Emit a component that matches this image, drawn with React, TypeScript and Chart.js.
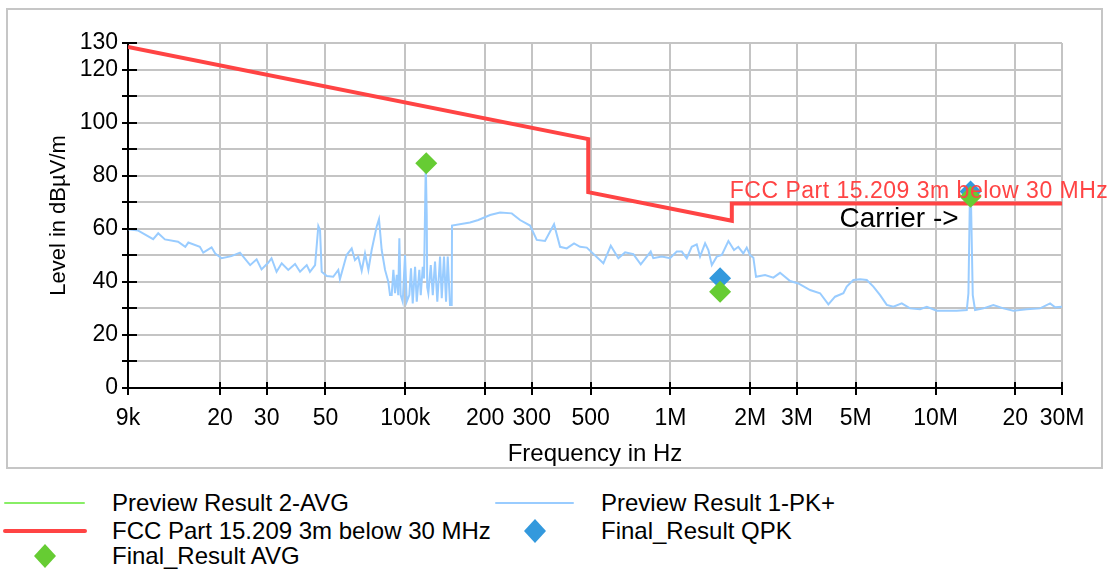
import React, { useEffect, useRef } from "react";
import { Chart, registerables } from "chart.js";

Chart.register(...registerables);

const FONT = '"Liberation Sans", Arial, Helvetica, sans-serif';

// ---- Preview Result 1-PK+ (frequency in Hz, level in dBµV/m) ----
const traceFreq = [
  9000, 9840, 11200, 11700, 12400, 13900, 14800, 15200, 16800, 17300, 18600, 19200,
  20300, 22100, 23800, 26000, 27500, 28700, 30400, 31300, 32700, 34200, 36200, 38400,
  40100, 42500, 43700, 45700, 47000, 47700, 48400, 50600, 53500, 55900, 56700, 60100,
  62800, 64600, 66500, 68500, 70500, 72600, 74700, 78000, 79600, 81500, 83900, 86300,
  87600, 88900, 90200, 91500, 92900, 94100, 95000, 96100, 97800, 99800, 101300, 103600,
  105100, 106700, 108900, 110500, 113000, 114400, 116400, 117700, 119500, 120500, 121000,
  122200, 124800, 127000, 129500, 132100, 135300, 137300, 140000, 142500, 144600, 147500,
  149700, 150100, 175500, 188600, 208900, 227800, 252200, 271000, 295600, 313300, 336700,
  364100, 383600, 406500, 433200, 456300, 483700, 558800, 595900, 636400, 675000, 725000,
  773000, 843000, 862000, 928000, 997000, 1057000, 1104000, 1153000, 1204000, 1257000,
  1294000, 1352000, 1391000, 1433000, 1496000, 1563000, 1655000, 1738000, 1804000,
  1884000, 1941000, 1998000, 2056000, 2104000, 2276000, 2446000, 2592000, 2829000,
  3040000, 3364000, 3670000, 3944000, 4180000, 4493000, 4626000, 4900000, 5195000,
  5505000, 5830000, 6180000, 6550000, 6936000, 7460000, 8018000, 8744000, 9270000,
  10110000, 11030000, 12030000, 13120000, 13310000, 13480000, 13600000, 13820000,
  14100000, 15160000, 16530000, 18030000, 19670000, 22090000, 24800000, 27050000,
  28260000, 30000000,
];
const traceLevel = [
  59.8, 59.3, 56.1, 58.3, 56.0, 55.1, 53.2, 54.8, 53.2, 51.0, 53.0, 50.7,
  48.9, 49.7, 51.0, 46.3, 48.5, 44.7, 47.2, 48.9, 43.8, 47.0, 44.5, 46.7,
  43.8, 46.3, 43.8, 46.3, 61.0, 59.5, 43.8, 42.2, 41.9, 44.5, 41.0, 50.1,
  52.6, 48.2, 49.5, 44.2, 50.7, 44.5, 52.0, 60.8, 63.6, 52.0, 44.5, 40.1,
  35.0, 35.0, 44.5, 35.7, 42.6, 35.0, 56.4, 35.0, 32.5, 50.1, 32.5, 35.0,
  45.1, 31.9, 45.7, 32.5, 44.5, 35.0, 45.7, 41.3, 84.5, 65.2, 38.0,
  35.7, 46.3, 35.0, 47.6, 32.5, 49.5, 33.8, 49.5, 32.5, 49.5, 31.3,
  31.3, 61.2, 62.4, 63.3, 65.2, 66.1, 65.8, 63.3, 61.2, 55.8, 55.4,
  61.7, 53.2, 52.6, 54.5, 53.2, 52.9, 47.0, 53.6, 48.9, 51.1, 50.4,
  46.6, 51.4, 48.9, 49.5, 48.9, 51.4, 51.4, 48.9, 53.2, 54.1,
  49.5, 54.5, 52.0, 46.3, 49.5, 50.1, 55.4, 52.0, 53.2,
  50.7, 52.9, 50.1, 49.1, 41.9, 42.6, 41.6, 43.4, 40.3,
  39.4, 36.9, 35.7, 31.5, 34.4, 35.7, 38.2, 40.7, 41.0,
  40.7, 38.2, 35.0, 31.3, 30.6, 31.9, 30.0, 29.7, 30.6,
  29.1, 29.1, 29.1, 29.4, 35.7, 72.0, 72.0, 35.0,
  29.4, 30.0, 31.3, 30.0, 29.1, 29.7, 30.0, 31.9,
  30.4, 30.6,
];

// ---- FCC Part 15.209 3m below 30 MHz limit ----
const limitFreq = [9000, 490000, 490000, 1705000, 1705000, 30000000];
const limitLevel = [128.5, 93.8, 73.8, 63.0, 69.5, 69.5];

// ---- Final results ----
const avgFreq = [120000, 1540000, 13560000];
const avgLevel = [84.7, 36.3, 72.1];
const qpkFreq = [1540000, 13560000];
const qpkLevel = [41.4, 74.0];

// ---- Axes ----
const xTickValues = [9000, 20000, 30000, 50000, 100000, 200000, 300000, 500000, 1e6, 2e6, 3e6, 5e6, 1e7, 2e7, 3e7];
const xTickLabels = ["9k", "20", "30", "50", "100k", "200", "300", "500", "1M", "2M", "3M", "5M", "10M", "20", "30M"];
const yTickValues = [0, 10, 20, 30, 40, 50, 60, 70, 80, 90, 100, 110, 120, 130];
const yTickLabels = ["0", "", "20", "", "40", "", "60", "", "80", "", "100", "", "120", "130"];

const seriesNames = [
  "Preview Result 2-AVG",
  "Preview Result 1-PK+",
  "FCC Part 15.209 3m below 30 MHz",
  "Final_Result QPK",
  "Final_Result AVG",
];
const limitLabelFreq = 1705000;
const carrierText = "Carrier ->";
const carrierFreq = 13560000;
const carrierLevel = 60.6;

const RED = "#ff4444";
const TRACE = "#99ccff";
const GREEN = "#66cc33";
const BLUE = "#3399dd";
const AVG_LINE = "#88ee66";
const GRID = "#c4c4c4";

const toPoints = (xs: number[], ys: number[]) => xs.map((x, i) => ({ x, y: ys[i] }));

const overlayPlugin = {
  id: "overlay",
  afterDraw(chart: any) {
    const { ctx, chartArea } = chart;
    const xs = chart.scales.x;
    const ys = chart.scales.y;
    ctx.save();
    ctx.strokeStyle = "#000";
    ctx.lineWidth = 2;
    ctx.beginPath();
    for (const v of yTickValues) {
      const py = Math.round(ys.getPixelForValue(v));
      ctx.moveTo(chartArea.left - 6, py);
      ctx.lineTo(chartArea.left + 9, py);
    }
    for (const v of xTickValues) {
      const px = Math.round(xs.getPixelForValue(v));
      ctx.moveTo(px, chartArea.bottom - 6);
      ctx.lineTo(px, chartArea.bottom + 7);
    }
    ctx.stroke();

    ctx.fillStyle = RED;
    ctx.font = `23px ${FONT}`;
    ctx.textAlign = "left";
    ctx.textBaseline = "alphabetic";
    ctx.letterSpacing = "0.5px";
    ctx.fillText(seriesNames[2], xs.getPixelForValue(limitLabelFreq) - 2, ys.getPixelForValue(limitLevel[4]) - 6);
    ctx.letterSpacing = "0px";

    ctx.fillStyle = "#000";
    ctx.font = `28px ${FONT}`;
    ctx.textAlign = "right";
    ctx.fillText(carrierText, xs.getPixelForValue(carrierFreq) - 12, ys.getPixelForValue(carrierLevel));
    ctx.restore();
  },
};

function LegendLine({ left, top, width, color, thickness }: any) {
  return (
    <div
      style={{
        position: "absolute",
        left,
        top: top - thickness / 2,
        width,
        height: thickness,
        background: color,
        borderRadius: thickness / 2,
      }}
    />
  );
}

function LegendDiamond({ cx, cy, color }: any) {
  return (
    <div
      style={{
        position: "absolute",
        left: cx - 11,
        top: cy - 12,
        width: 22,
        height: 24,
        background: color,
        clipPath: "polygon(50% 0, 100% 50%, 50% 100%, 0 50%)",
      }}
    />
  );
}

function LegendText({ left, cy, text }: any) {
  return (
    <div
      style={{
        position: "absolute",
        left,
        top: cy - 14,
        height: 28,
        lineHeight: "28px",
        fontFamily: FONT,
        fontSize: 24,
        color: "#000",
        whiteSpace: "nowrap",
      }}
    >
      {text}
    </div>
  );
}

export default function App() {
  const canvasRef = useRef<HTMLCanvasElement>(null);

  useEffect(() => {
    const canvas = canvasRef.current;
    if (!canvas) return;
    const tickFont = { family: FONT, size: 23 };
    const chart = new Chart(canvas, {
      type: "line",
      data: {
        datasets: [
          {
            label: seriesNames[4],
            data: toPoints(avgFreq, avgLevel),
            showLine: false,
            pointStyle: "rectRot",
            pointRadius: 11,
            pointBackgroundColor: GREEN,
            pointBorderColor: GREEN,
            pointBorderWidth: 0,
            backgroundColor: GREEN,
            borderColor: GREEN,
            order: 0,
          },
          {
            label: seriesNames[3],
            data: toPoints(qpkFreq, qpkLevel),
            showLine: false,
            pointStyle: "rectRot",
            pointRadius: 11,
            pointBackgroundColor: BLUE,
            pointBorderColor: BLUE,
            pointBorderWidth: 0,
            backgroundColor: BLUE,
            borderColor: BLUE,
            order: 1,
          },
          {
            label: seriesNames[2],
            data: toPoints(limitFreq, limitLevel),
            borderColor: RED,
            borderWidth: 4,
            pointRadius: 0,
            tension: 0,
            fill: false,
            order: 2,
          },
          {
            label: seriesNames[1],
            data: toPoints(traceFreq, traceLevel),
            borderColor: TRACE,
            borderWidth: 2,
            pointRadius: 0,
            tension: 0,
            fill: false,
            order: 3,
          },
          {
            label: seriesNames[0],
            data: [],
            borderColor: AVG_LINE,
            borderWidth: 1.5,
            pointRadius: 0,
            order: 4,
          },
        ],
      },
      options: {
        responsive: false,
        animation: false,
        devicePixelRatio: 1,
        layout: { padding: { top: 43, right: 48, left: 0, bottom: 0 } },
        plugins: { legend: { display: false }, tooltip: { enabled: false } },
        scales: {
          x: {
            type: "logarithmic",
            min: 9000,
            max: 30000000,
            afterBuildTicks: (s: any) => {
              s.ticks = xTickValues.map((v) => ({ value: v }));
            },
            afterFit: (s: any) => {
              s.height = 87;
            },
            ticks: {
              autoSkip: false,
              maxRotation: 0,
              minRotation: 0,
              padding: 17,
              color: "#000",
              font: tickFont,
              callback: (v: any) => {
                const i = xTickValues.indexOf(Number(v));
                return i >= 0 ? xTickLabels[i] : "";
              },
            },
            grid: { color: GRID, lineWidth: 2, drawTicks: false },
            border: { display: true, color: "#000", width: 2 },
            title: {
              display: true,
              text: "Frequency in Hz",
              color: "#000",
              font: { family: FONT, size: 24 },
              padding: { top: 0, bottom: 6 },
            },
          },
          y: {
            type: "linear",
            min: 0,
            max: 130,
            afterBuildTicks: (s: any) => {
              s.ticks = yTickValues.map((v) => ({ value: v }));
            },
            afterFit: (s: any) => {
              s.width = 128;
            },
            ticks: {
              autoSkip: false,
              padding: 10,
              color: "#000",
              font: tickFont,
              callback: (v: any) => {
                const i = yTickValues.indexOf(Number(v));
                return i >= 0 ? yTickLabels[i] : "";
              },
            },
            grid: { color: GRID, lineWidth: 2, drawTicks: false },
            border: { display: true, color: "#000", width: 2 },
            title: {
              display: true,
              text: "Level in dBµV/m",
              color: "#000",
              font: { family: FONT, size: 22 },
              padding: { top: 46, bottom: 0 },
            },
          },
        },
      },
      plugins: [overlayPlugin],
    } as any);
    return () => chart.destroy();
  }, []);

  return (
    <div
      style={{
        position: "fixed",
        left: 0,
        top: 0,
        width: 1110,
        height: 571,
        background: "#fff",
        overflow: "hidden",
      }}
    >
      <div
        style={{
          position: "absolute",
          left: 6,
          top: 8,
          width: 1097,
          height: 461,
          border: "2px solid #c6c6c6",
          boxSizing: "border-box",
        }}
      />
      <canvas
        ref={canvasRef}
        width={1110}
        height={475}
        style={{ position: "absolute", left: 0, top: 0, width: 1110, height: 475, display: "block" }}
      />
      <LegendLine left={4} top={503} width={81} color={AVG_LINE} thickness={2} />
      <LegendText left={112} cy={503} text={seriesNames[0]} />
      <LegendLine left={495} top={503} width={79} color={TRACE} thickness={2} />
      <LegendText left={601} cy={503} text={seriesNames[1]} />
      <LegendLine left={3} top={531} width={84} color={RED} thickness={4} />
      <LegendText left={112} cy={531} text={seriesNames[2]} />
      <LegendDiamond cx={535} cy={531} color={BLUE} />
      <LegendText left={601} cy={531} text={seriesNames[3]} />
      <LegendDiamond cx={45} cy={556} color={GREEN} />
      <LegendText left={112} cy={556} text={seriesNames[4]} />
    </div>
  );
}
